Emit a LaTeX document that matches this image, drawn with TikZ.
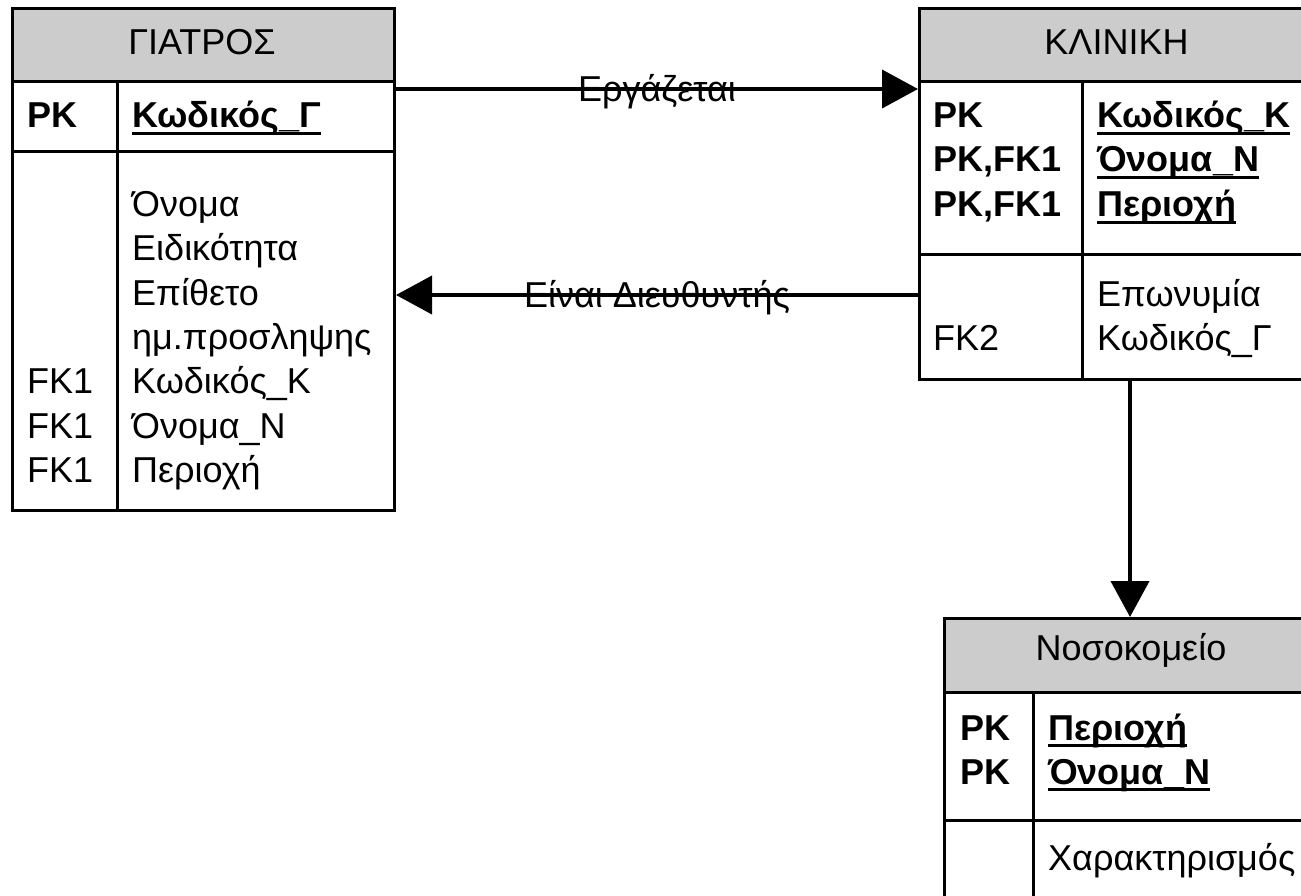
\documentclass[tikz,border=0pt]{standalone}
\usepackage{fontspec}
\setmainfont{Liberation Sans}
\usetikzlibrary{arrows.meta}
\definecolor{hdrgray}{RGB}{204,204,204}
% underlined key attribute: a bar just under the baseline, as wide as the text
\newcommand\keyattr[1]{\setbox0\hbox{#1}\rlap{\vrule height -3.7pt depth 7pt width \wd0}\box0}
\begin{document}
\begin{tikzpicture}[
  x=1pt, y=-1pt,
  tbl/.style={draw, line width=3pt, inner sep=0pt, anchor=north west},
  hdr/.style={tbl, fill=hdrgray},
  rule/.style={line width=3pt},
  txt/.style={inner sep=0pt, anchor=base west, font=\fontsize{36}{44}\selectfont},
  key/.style={txt, font=\fontsize{36}{44}\selectfont\bfseries},
  title/.style={inner sep=0pt, anchor=base, font=\fontsize{36}{44}\selectfont},
  lbl/.style={inner sep=0pt, anchor=base, font=\fontsize{36}{44}\selectfont},
  conn/.style={line width=4pt, -{Triangle[length=36pt,width=38pt]}}
]
\useasboundingbox (0,0) rectangle (1301,896);
\begin{scope}
\clip (0,0) rectangle (1301,896);

% ---- ΓΙΑΤΡΟΣ ----
\node[tbl, minimum width=382pt, minimum height=502pt] (giatros) at (11,7) {};
\node[hdr, minimum width=382pt, minimum height=73pt] (giatros-h) at (11,7) {};
\draw[rule] (11,152) -- (393,152);
\draw[rule] (117,80) -- (117,509);
\node[title] (giatros-t) at (202,55) {ΓΙΑΤΡΟΣ};
\node[key] (g-pk) at (27,128) {PK};
\node[key] (g-id) at (132,128) {\keyattr{Κωδικός\_Γ}};
\node[txt] (g-a1) at (132,217) {Όνομα};
\node[txt] (g-a2) at (132,260) {Ειδικότητα};
\node[txt] (g-a3) at (132,305) {Επίθετο};
\node[txt] (g-a4) at (132,349) {ημ.προσληψης};
\node[txt] (g-a5) at (132,393) {Κωδικός\_Κ};
\node[txt] (g-a6) at (132,438) {Όνομα\_Ν};
\node[txt] (g-a7) at (132,482) {Περιοχή};
\node[txt] (g-f1) at (27,393) {FK1};
\node[txt] (g-f2) at (27,438) {FK1};
\node[txt] (g-f3) at (27,482) {FK1};

% ---- ΚΛΙΝΙΚΗ ----
\node[tbl, minimum width=397pt, minimum height=371pt] (klinikh) at (918,7) {};
\node[hdr, minimum width=397pt, minimum height=73pt] (klinikh-h) at (918,7) {};
\draw[rule] (918,254) -- (1315,254);
\draw[rule] (1082,80) -- (1082,378);
\node[title] (klinikh-t) at (1116.5,55) {ΚΛΙΝΙΚΗ};
\node[key] (k-pk1) at (933,128) {PK};
\node[key] (k-pk2) at (933,172) {PK,FK1};
\node[key] (k-pk3) at (933,217) {PK,FK1};
\node[key] (k-id1) at (1097,128) {\keyattr{Κωδικός\_Κ}};
\node[key] (k-id2) at (1097,172) {\keyattr{Όνομα\_Ν}};
\node[key] (k-id3) at (1097,217) {\keyattr{Περιοχή}};
\node[txt] (k-a1) at (1097,306) {Επωνυμία};
\node[txt] (k-a2) at (1097,350) {Κωδικός\_Γ};
\node[txt] (k-f2) at (933,350) {FK2};

% ---- Νοσοκομείο ----
\node[tbl, minimum width=376pt, minimum height=300pt] (nosok) at (943,617) {};
\node[hdr, minimum width=376pt, minimum height=74pt] (nosok-h) at (943,617) {};
\draw[rule] (943,820) -- (1319,820);
\draw[rule] (1033,691) -- (1033,917);
\node[title] (nosok-t) at (1131,660) {Νοσοκομείο};
\node[key] (n-pk1) at (960,740) {PK};
\node[key] (n-pk2) at (960,784) {PK};
\node[key] (n-id1) at (1048,740) {\keyattr{Περιοχή}};
\node[key] (n-id2) at (1048,784) {\keyattr{Όνομα\_Ν}};
\node[txt] (n-a1) at (1048,870) {Χαρακτηρισμός};
\end{scope}

% ---- relationships ----
\draw[conn] (giatros.east |- 0,89) -- node[lbl, yshift=-13pt] (rel1) {Εργάζεται} (klinikh.west |- 0,89);
\draw[conn] (klinikh.west |- 0,295) -- node[lbl, yshift=-12pt] (rel2) {Είναι Διευθυντής} (giatros.east |- 0,295);
\draw[conn] (klinikh.south -| 1130,0) -- (nosok.north -| 1130,0);
\end{tikzpicture}
\end{document}
